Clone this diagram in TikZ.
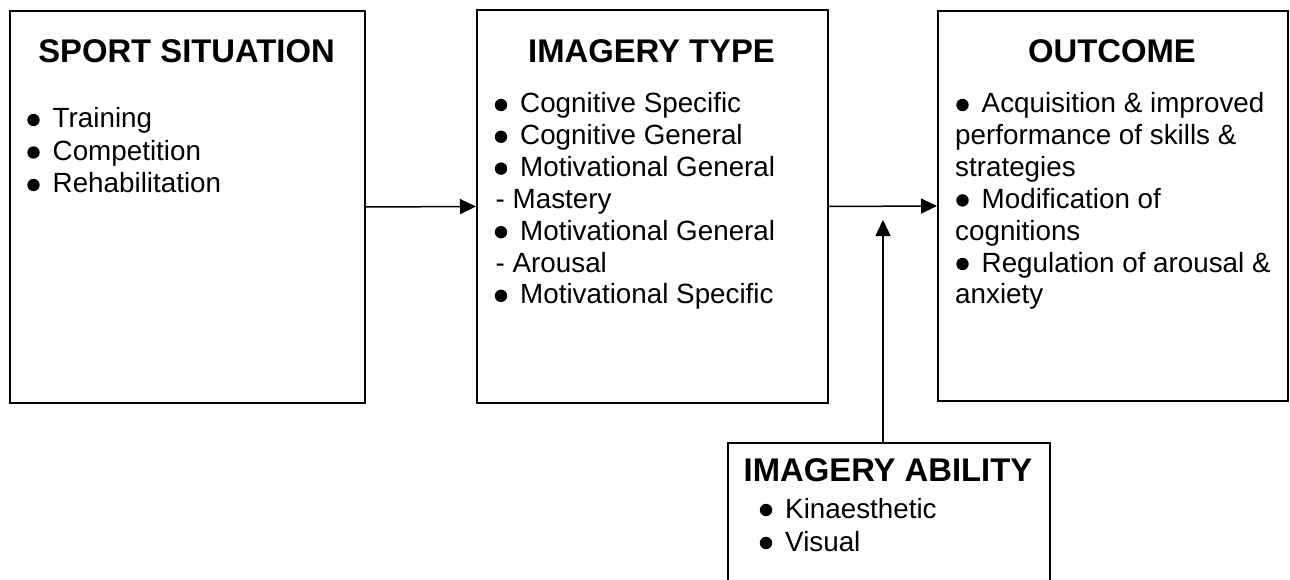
\documentclass[tikz,border=0pt]{standalone}
\usepackage{fontspec}
\setmainfont{Liberation Sans}
\usetikzlibrary{arrows.meta}
\tikzset{
  box/.style={draw, line width=2pt, inner sep=0pt, anchor=north west},
  ttl/.style={anchor=base, inner sep=0pt, font=\fontsize{32.8}{36}\selectfont\bfseries},
  itm/.style={anchor=base west, inner sep=0pt, font=\fontsize{27.8}{32}\selectfont},
  bul/.style={fill=black},
  arr/.style={line width=1.5pt, -{Triangle[length=16pt,width=15pt]}}
}
% bullet item: name, text x, baseline y, text
\newcommand{\bitem}[4]{%
  \fill[bul] ({#2-19},{#3-8}) circle (6.2pt);
  \node[itm] (#1) at (#2,#3) {#4};}
\begin{document}
\begin{tikzpicture}[x=1pt,y=-1pt]
\useasboundingbox (0,0) rectangle (1290,580);
% boxes
\node[box, minimum width=355pt, minimum height=392pt] (box1) at (9,10) {};
\node[box, minimum width=351pt, minimum height=393pt] (box2) at (476,9) {};
\node[box, minimum width=350pt, minimum height=390pt] (box3) at (937,10) {};
\node[inner sep=0pt, anchor=north west, minimum width=322pt, minimum height=137pt] (box4) at (728,443) {};
\draw[line width=2pt] (box4.south west) -- (box4.north west) -- (box4.north east) -- (box4.south east);
% titles
\node[ttl] (t1) at (186.5,63) {SPORT SITUATION};
\node[ttl] (t2) at (651.5,63) {IMAGERY TYPE};
\node[ttl] (t3) at (1112,63) {OUTCOME};
\node[ttl] (t4) at (888,481) {IMAGERY ABILITY};
% box 1 items
\bitem{a1}{52.5}{128}{Training}
\bitem{a2}{52.5}{160.5}{Competition}
\bitem{a3}{52.5}{193}{Rehabilitation}
% box 2 items
\bitem{b1}{520}{113}{Cognitive Specific}
\bitem{b2}{520}{144.8}{Cognitive General}
\bitem{b3}{520}{176.6}{Motivational General}
\node[itm] (b4) at (495.5,208.4) {- Mastery};
\bitem{b5}{520}{240.2}{Motivational General}
\node[itm] (b6) at (495.5,272) {- Arousal};
\bitem{b7}{520}{303.8}{Motivational Specific}
% box 3 items
\bitem{c1}{981.5}{113}{Acquisition \& improved}
\node[itm] (c2) at (955,144.8) {performance of skills \&};
\node[itm] (c3) at (955,176.6) {strategies};
\bitem{c4}{981.5}{208.4}{Modification of}
\node[itm] (c5) at (955,240.2) {cognitions};
\bitem{c6}{981.5}{272}{Regulation of arousal \&}
\node[itm] (c7) at (955,303.8) {anxiety};
% box 4 items
\bitem{d1}{785}{518}{Kinaesthetic}
\bitem{d2}{785}{551}{Visual}
% arrows
\draw[arr] (box1.east) -- (box2.west);
\draw[arr] (box2.east) -- (box3.west);
\coordinate (tip) at (883,220);
\draw[arr] (tip |- box4.north) -- (tip);
\end{tikzpicture}
\end{document}
